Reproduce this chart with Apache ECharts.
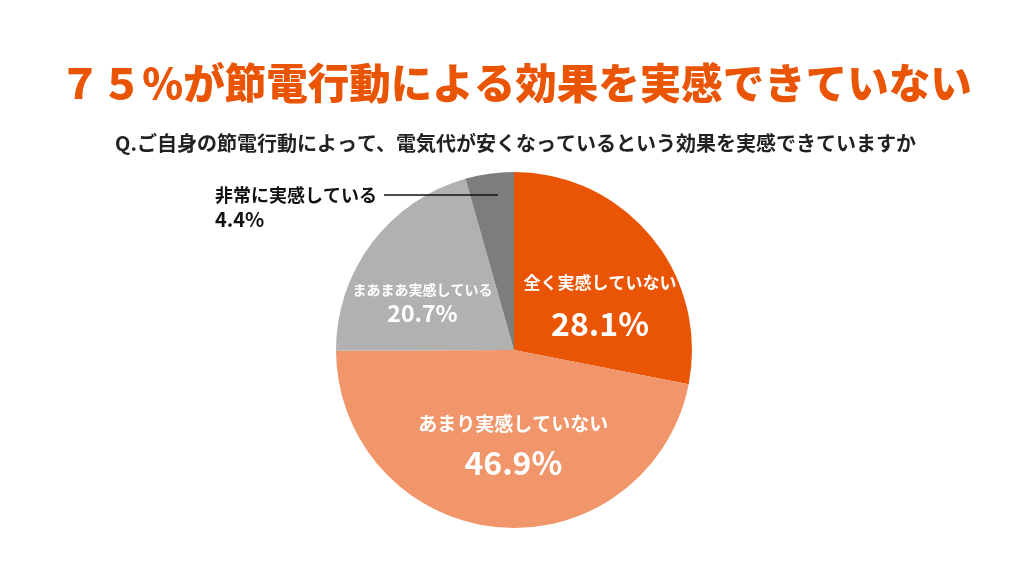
<!DOCTYPE html>
<html>
<head>
<meta charset="utf-8">
<script src="https://cdn.jsdelivr.net/npm/echarts@6/dist/echarts.min.js"></script>
<style>
  html, body { margin: 0; padding: 0; background: #fff; }
  #chart { width: 1031px; height: 580px; }
</style>
</head>
<body>
<div id="chart"></div>
<script>
const titleText = '７５%が節電行動による効果を実感できていない'
const questionText = 'Q.ご自身の節電行動によって、電気代が安くなっているという効果を実感できていますか'
const names = ['全く実感していない', 'あまり実感していない', 'まあまあ実感している', '非常に実感している']
const values = [28.1, 46.9, 20.7, 4.4]
const colors = ['#e95505', '#f0966a', '#b1b1b1', '#7d7d7d']

const FONT = '"Noto Sans CJK JP", "Noto Sans", sans-serif'

// label look per slice (inside ones)
function insideLabel (nameSize, valSize, nameLH, valLH, padding) {
  return {
    show: true,
    position: 'inside',
    formatter: '{n|{b}}\n{v|{c}%}',
    padding,
    rich: {
      n: { color: '#fff', fontSize: nameSize, fontWeight: 'bold', fontFamily: FONT, lineHeight: nameLH, align: 'center' },
      v: { color: '#fff', fontSize: valSize, fontWeight: 'bold', fontFamily: FONT, lineHeight: valLH, align: 'center' }
    }
  }
}

const labels = [
  insideLabel(17, 32, 28, 54, [36, 0, 0, 30]),
  insideLabel(19, 32, 28, 50, [14, 0, 0, 16]),
  insideLabel(14, 23, 22, 26, [16, 36, 0, 0]),
  {
    // small slice: text outside, leader line drawn as part of the label
    show: true,
    position: 'outside',
    formatter: '{n|{b}}{sp|}{ln|}\n{v|{c}%}',
    rich: {
      n: { color: '#111', fontSize: 18, fontWeight: 'bold', fontFamily: FONT, lineHeight: 24, align: 'left' },
      sp: { width: 7, height: 1, lineHeight: 24 },
      ln: { width: 114, height: 1.3, lineHeight: 24, backgroundColor: '#111', verticalAlign: 'middle' },
      v: { color: '#111', fontSize: 20, fontWeight: 'bold', fontFamily: FONT, lineHeight: 24, align: 'left' }
    }
  }
]

const dom = document.getElementById('chart')
const chart = echarts.init(dom)
const cx = 514, cy = 350, R = 178

chart.setOption({
  animation: false,
  title: [{
    text: titleText,
    left: 'center',
    top: 54,
    textStyle: { color: '#e95505', fontSize: 41.5, fontWeight: 900, fontFamily: FONT, lineHeight: 48 }
  }, {
    text: questionText,
    left: 'center',
    top: 126,
    textStyle: { color: '#222', fontSize: 20, fontWeight: 'bold', fontFamily: FONT, lineHeight: 24 }
  }],
  series: [{
    type: 'pie',
    center: [cx, cy],
    radius: [0, R],
    startAngle: 90,
    clockwise: true,
    emphasis: { disabled: true },
    labelLine: { show: false },
    labelLayout: function (p) {
      if (p.dataIndex !== 3) return {}
      return {
        x: cx - 299,
        y: cy - 167,
        align: 'left',
        verticalAlign: 'top'
      }
    },
    data: names.map((n, i) => ({
      name: n,
      value: values[i],
      itemStyle: { color: colors[i] },
      label: labels[i]
    }))
  }]
})
</script>
</body>
</html>
